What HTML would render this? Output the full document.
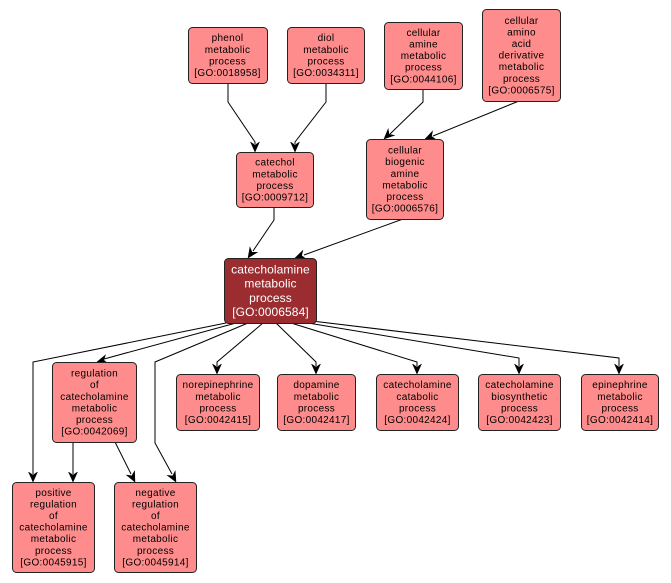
<!DOCTYPE html>
<html><head><meta charset="utf-8"><style>
html,body{margin:0;padding:0;background:#fff;}
svg{display:block;}
text{font-family:"Liberation Sans",Arial,sans-serif;font-size:10px;letter-spacing:0.3px;fill:#000;text-anchor:middle;}
.m{font-size:12px;letter-spacing:0.1px;fill:#fff;}
rect{fill:#ff8c8c;stroke:#222;stroke-width:1;}
rect.main{fill:#9b2d30;}
path.e{fill:none;stroke:#000;stroke-width:1;}
path.a{fill:#000;stroke:#000;stroke-width:0.5;}
</style></head><body>
<svg width="671" height="583" viewBox="0 0 671 583" xmlns="http://www.w3.org/2000/svg">
<!-- edges -->
<path class="e" d="M228,83 V102 L255,142 V144"/>
<path class="e" d="M326,83 V102 L295,142 V144"/>
<path class="e" d="M423,89 V102 L390,134"/>
<path class="e" d="M519,101 L433,136"/>
<path class="e" d="M274,207 V220 L253,251"/>
<path class="e" d="M403,219 L304,255"/>
<path class="e" d="M226,323 L33,362 V474"/>
<path class="e" d="M236,323 L104,359"/>
<path class="e" d="M248,323 L155,362 V443 L172,474"/>
<path class="e" d="M263,323 L217,362 V366"/>
<path class="e" d="M276,323 L316,362 V366"/>
<path class="e" d="M291,323 L417,362 V366"/>
<path class="e" d="M302,322 L519,358 V366"/>
<path class="e" d="M312,321 L619,358 V366"/>
<path class="e" d="M73,442 V474"/>
<path class="e" d="M115,442 L131,474"/>
<!-- arrowheads -->
<g>
<path class="a" d="M0,0 L-4.5,-10 L0,-7 L4.5,-10 Z" transform="translate(255,152)"/>
<path class="a" d="M0,0 L-4.5,-10 L0,-7 L4.5,-10 Z" transform="translate(295,152)"/>
<path class="a" d="M0,0 L-4.5,-10 L0,-7 L4.5,-10 Z" transform="translate(384,139) rotate(46.5)"/>
<path class="a" d="M0,0 L-4.5,-10 L0,-7 L4.5,-10 Z" transform="translate(425,139) rotate(68)"/>
<path class="a" d="M0,0 L-4.5,-10 L0,-7 L4.5,-10 Z" transform="translate(248,258) rotate(34.4)"/>
<path class="a" d="M0,0 L-4.5,-10 L0,-7 L4.5,-10 Z" transform="translate(295,258) rotate(70.1)"/>
<path class="a" d="M0,0 L-4.5,-10 L0,-7 L4.5,-10 Z" transform="translate(33,482)"/>
<path class="a" d="M0,0 L-4.5,-10 L0,-7 L4.5,-10 Z" transform="translate(97,362) rotate(74.3)"/>
<path class="a" d="M0,0 L-4.5,-10 L0,-7 L4.5,-10 Z" transform="translate(176,482) rotate(-28.3)"/>
<path class="a" d="M0,0 L-4.5,-10 L0,-7 L4.5,-10 Z" transform="translate(217,374)"/>
<path class="a" d="M0,0 L-4.5,-10 L0,-7 L4.5,-10 Z" transform="translate(316,374)"/>
<path class="a" d="M0,0 L-4.5,-10 L0,-7 L4.5,-10 Z" transform="translate(417,374)"/>
<path class="a" d="M0,0 L-4.5,-10 L0,-7 L4.5,-10 Z" transform="translate(519,374)"/>
<path class="a" d="M0,0 L-4.5,-10 L0,-7 L4.5,-10 Z" transform="translate(619,374)"/>
<path class="a" d="M0,0 L-4.5,-10 L0,-7 L4.5,-10 Z" transform="translate(73,482)"/>
<path class="a" d="M0,0 L-4.5,-10 L0,-7 L4.5,-10 Z" transform="translate(135,482) rotate(-26.6)"/>
</g>
<!-- nodes -->
<rect x="188.5" y="27.5" width="79" height="56" rx="4"/>
<text x="227.5" y="41.2">phenol</text><text x="227.5" y="52.8">metabolic</text><text x="227.5" y="64.4">process</text><text x="227.5" y="76">[GO:0018958]</text>

<rect x="287.5" y="27.5" width="77" height="56" rx="4"/>
<text x="326" y="41.2">diol</text><text x="326" y="52.8">metabolic</text><text x="326" y="64.4">process</text><text x="326" y="76">[GO:0034311]</text>

<rect x="384.5" y="22.5" width="78" height="67" rx="4"/>
<text x="423.5" y="35.9">cellular</text><text x="423.5" y="47.5">amine</text><text x="423.5" y="59.1">metabolic</text><text x="423.5" y="70.7">process</text><text x="423.5" y="82.3">[GO:0044106]</text>

<rect x="482.5" y="9.5" width="78" height="92" rx="4"/>
<text x="521.5" y="23.8">cellular</text><text x="521.5" y="35.4">amino</text><text x="521.5" y="47">acid</text><text x="521.5" y="58.6">derivative</text><text x="521.5" y="70.2">metabolic</text><text x="521.5" y="81.8">process</text><text x="521.5" y="93.4">[GO:0006575]</text>

<rect x="236.5" y="152.5" width="77" height="55" rx="4"/>
<text x="275" y="165.7">catechol</text><text x="275" y="177.3">metabolic</text><text x="275" y="188.9">process</text><text x="275" y="200.5">[GO:0009712]</text>

<rect x="366.5" y="139.5" width="77" height="80" rx="4"/>
<text x="405" y="153.6">cellular</text><text x="405" y="165.2">biogenic</text><text x="405" y="176.8">amine</text><text x="405" y="188.4">metabolic</text><text x="405" y="200">process</text><text x="405" y="211.6">[GO:0006576]</text>

<rect class="main" x="224.5" y="258.5" width="92" height="65" rx="4"/>
<text class="m" x="270.5" y="273.3">catecholamine</text><text class="m" x="270.5" y="287.6">metabolic</text><text class="m" x="270.5" y="301.9">process</text><text class="m" x="270.5" y="316.2">[GO:0006584]</text>

<rect x="52.5" y="362.5" width="84" height="80" rx="4"/>
<text x="94.5" y="376.6">regulation</text><text x="94.5" y="388.2">of</text><text x="94.5" y="399.8">catecholamine</text><text x="94.5" y="411.4">metabolic</text><text x="94.5" y="423">process</text><text x="94.5" y="434.6">[GO:0042069]</text>

<rect x="176.5" y="374.5" width="83" height="56" rx="4"/>
<text x="218" y="388.2">norepinephrine</text><text x="218" y="399.8">metabolic</text><text x="218" y="411.4">process</text><text x="218" y="423">[GO:0042415]</text>

<rect x="277.5" y="374.5" width="78" height="56" rx="4"/>
<text x="316.5" y="388.2">dopamine</text><text x="316.5" y="399.8">metabolic</text><text x="316.5" y="411.4">process</text><text x="316.5" y="423">[GO:0042417]</text>

<rect x="376.5" y="374.5" width="82" height="56" rx="4"/>
<text x="417.5" y="388.2">catecholamine</text><text x="417.5" y="399.8">catabolic</text><text x="417.5" y="411.4">process</text><text x="417.5" y="423">[GO:0042424]</text>

<rect x="478.5" y="374.5" width="82" height="56" rx="4"/>
<text x="519.5" y="388.2">catecholamine</text><text x="519.5" y="399.8">biosynthetic</text><text x="519.5" y="411.4">process</text><text x="519.5" y="423">[GO:0042423]</text>

<rect x="581.5" y="374.5" width="77" height="56" rx="4"/>
<text x="620" y="388.2">epinephrine</text><text x="620" y="399.8">metabolic</text><text x="620" y="411.4">process</text><text x="620" y="423">[GO:0042414]</text>

<rect x="12.5" y="482.5" width="82" height="90" rx="4"/>
<text x="53.5" y="495.8">positive</text><text x="53.5" y="507.4">regulation</text><text x="53.5" y="519">of</text><text x="53.5" y="530.6">catecholamine</text><text x="53.5" y="542.2">metabolic</text><text x="53.5" y="553.8">process</text><text x="53.5" y="565.4">[GO:0045915]</text>

<rect x="114.5" y="482.5" width="82" height="90" rx="4"/>
<text x="155.5" y="495.8">negative</text><text x="155.5" y="507.4">regulation</text><text x="155.5" y="519">of</text><text x="155.5" y="530.6">catecholamine</text><text x="155.5" y="542.2">metabolic</text><text x="155.5" y="553.8">process</text><text x="155.5" y="565.4">[GO:0045914]</text>
</svg>
</body></html>
